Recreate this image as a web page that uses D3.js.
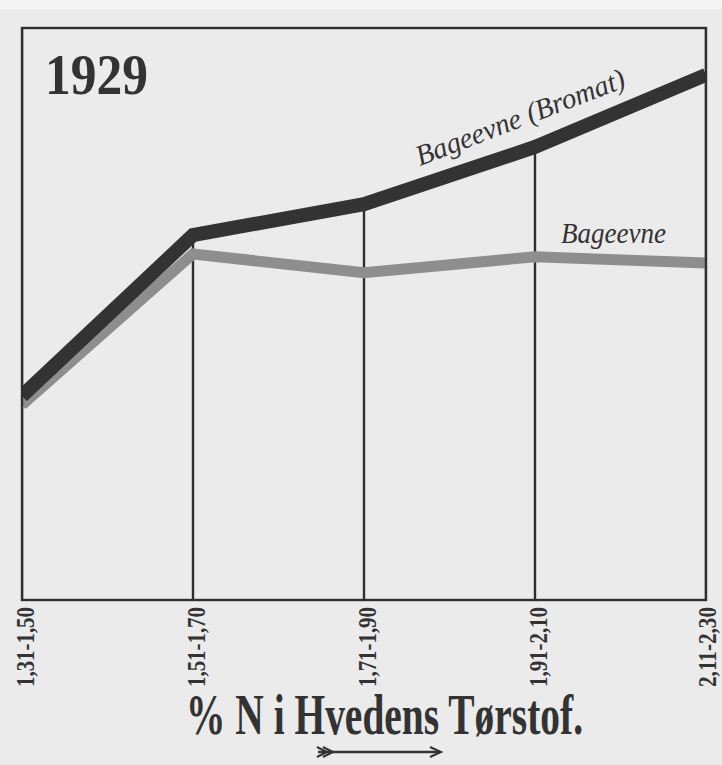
<!DOCTYPE html>
<html>
<head>
<meta charset="utf-8">
<script src="https://cdn.jsdelivr.net/npm/d3@7/dist/d3.min.js"></script>
<style>
  html, body { margin: 0; padding: 0; background: #ebebeb; }
  svg { display: block; }
</style>
</head>
<body>
<script>
// ---- data ----
const categories = ["1,31-1,50", "1,51-1,70", "1,71-1,90", "1,91-2,10", "2,11-2,30"];
const bromatValues = [35.7, 63.8, 69.2, 79.2, 91.8];   // Bageevne (Bromat)
const plainValues  = [34.1, 60.5, 57.2, 60.0, 58.9];   // Bageevne
const yearLabel = "1929";
const xTitle = "% N i Hvedens Tørstof.";
const seriesNames = ["Bageevne (Bromat)", "Bageevne"];

(function () {
const W = 722, H = 765;
const bg = "#ebebeb";
const svg = d3.select("body").append("svg").attr("width", W).attr("height", H);

svg.append("rect").attr("width", W).attr("height", H).attr("fill", bg);
svg.append("rect").attr("width", W).attr("height", 9).attr("fill", "#f4f4f4");

const pLeft = 22, pRight = 706, pTop = 28, pBottom = 600;
const x = d3.scalePoint().domain(categories).range([pLeft, pRight]);
const y = d3.scaleLinear().domain([0, 100]).range([pBottom, pTop]);

const ink = "#2f2f2f";

// frame
svg.append("rect")
  .attr("x", pLeft).attr("y", pTop)
  .attr("width", pRight - pLeft).attr("height", pBottom - pTop)
  .attr("fill", "none").attr("stroke", ink).attr("stroke-width", 2.4);

// vertical guide lines up to the upper curve
svg.append("g").selectAll("line")
  .data(categories.slice(1, -1))
  .join("line")
  .attr("x1", d => x(d)).attr("x2", d => x(d))
  .attr("y1", pBottom)
  .attr("y2", d => y(bromatValues[categories.indexOf(d)]))
  .attr("stroke", ink).attr("stroke-width", 2.4);

const line = d3.line().x((d, i) => x(categories[i])).y(d => y(d));

// plain series (grey band)
svg.append("path")
  .datum(plainValues)
  .attr("d", line)
  .attr("fill", "none")
  .attr("stroke", "#8e8e8e")
  .attr("stroke-width", 11)
  .attr("stroke-linejoin", "miter");

// bromat series (dark band)
svg.append("path")
  .datum(bromatValues)
  .attr("d", line)
  .attr("fill", "none")
  .attr("stroke", "#333")
  .attr("stroke-width", 14)
  .attr("stroke-linejoin", "miter");

// mask band overflow beyond frame
svg.append("rect").attr("x", 0).attr("y", pTop).attr("width", pLeft).attr("height", pBottom - pTop).attr("fill", bg);
svg.append("rect").attr("x", pRight).attr("y", pTop).attr("width", W - pRight).attr("height", pBottom - pTop).attr("fill", bg);

// redraw frame sides over band ends
svg.append("line").attr("x1", pLeft).attr("x2", pLeft).attr("y1", pTop).attr("y2", pBottom)
  .attr("stroke", ink).attr("stroke-width", 2.4);
svg.append("line").attr("x1", pRight).attr("x2", pRight).attr("y1", pTop).attr("y2", pBottom)
  .attr("stroke", ink).attr("stroke-width", 2.4);

// year
svg.append("text")
  .attr("x", 45).attr("y", 94)
  .attr("font-family", "Liberation Serif, serif")
  .attr("font-weight", "bold")
  .attr("font-size", 56)
  .attr("textLength", 103)
  .attr("lengthAdjust", "spacingAndGlyphs")
  .attr("fill", "#333")
  .text(yearLabel);

// series labels
svg.append("text")
  .attr("transform", "translate(420,166) rotate(-21)")
  .attr("font-family", "Liberation Serif, serif")
  .attr("font-style", "italic")
  .attr("font-size", 29)
  .attr("textLength", 222)
  .attr("lengthAdjust", "spacingAndGlyphs")
  .attr("fill", "#333")
  .text(seriesNames[0]);

svg.append("text")
  .attr("x", 561).attr("y", 243)
  .attr("font-family", "Liberation Serif, serif")
  .attr("font-style", "italic")
  .attr("font-size", 29)
  .attr("textLength", 105)
  .attr("lengthAdjust", "spacingAndGlyphs")
  .attr("fill", "#333")
  .text(seriesNames[1]);

// tick labels (rotated)
svg.append("g").selectAll("text")
  .data(categories)
  .join("text")
  .attr("transform", (d, i) => `translate(${x(d) + (i === categories.length - 1 ? 1 : 3)},607) rotate(-90)`)
  .attr("text-anchor", "end")
  .attr("dy", "0.35em")
  .attr("font-family", "Liberation Serif, serif")
  .attr("font-weight", "bold")
  .attr("font-size", 26)
  .attr("textLength", 80)
  .attr("lengthAdjust", "spacingAndGlyphs")
  .attr("fill", "#333")
  .text(d => d);

// axis title (condensed by vertical stretch)
svg.append("text")
  .attr("transform", "translate(186,734) scale(1,1.42)")
  .attr("font-family", "Liberation Serif, serif")
  .attr("font-weight", "bold")
  .attr("font-size", 40)
  .attr("textLength", 397)
  .attr("lengthAdjust", "spacingAndGlyphs")
  .attr("fill", "#333")
  .text(xTitle);

// arrow
const ay = 752;
const ag = svg.append("g").attr("stroke", "#333").attr("fill", "none");
ag.append("line").attr("x1", 318).attr("x2", 440).attr("y1", ay).attr("y2", ay).attr("stroke-width", 2.5);
ag.append("path").attr("d", `M430,${ay-5} L441,${ay} L430,${ay+5}`).attr("stroke-width", 2);
ag.append("path").attr("d", `M317,${ay-5} L327,${ay} L317,${ay+5} M323,${ay-5} L333,${ay} L323,${ay+5}`).attr("stroke-width", 2);
})();
</script>
</body>
</html>
